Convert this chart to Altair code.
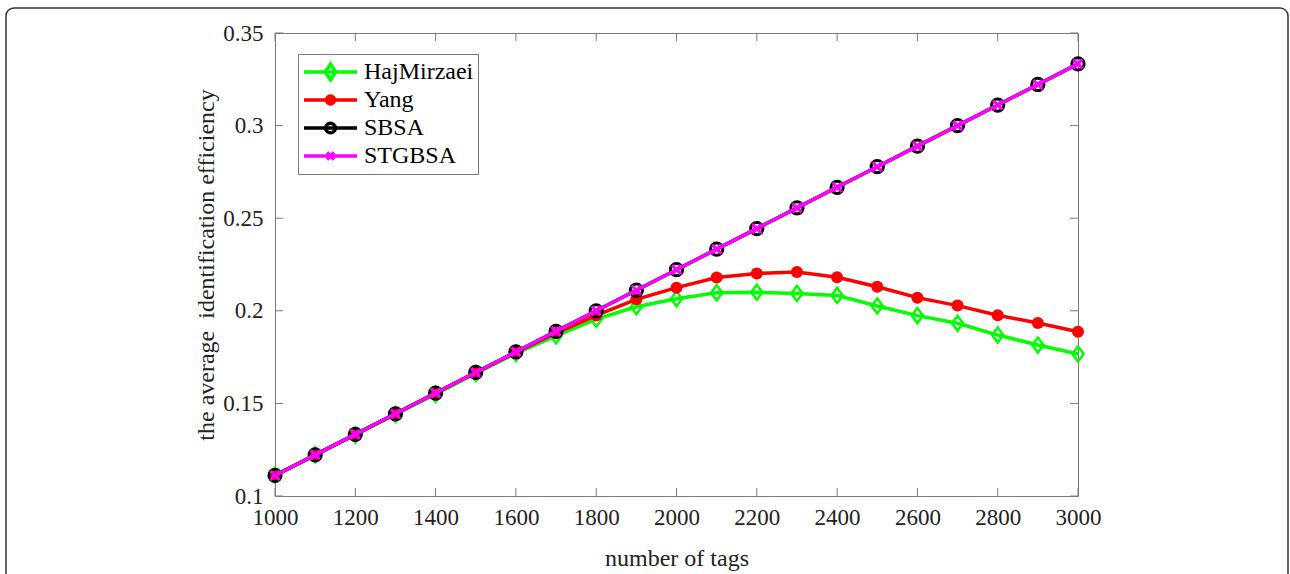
import altair as alt
import pandas as pd

# ---- data ----
tags = [1000, 1100, 1200, 1300, 1400, 1500, 1600, 1700, 1800, 1900, 2000,
        2100, 2200, 2300, 2400, 2500, 2600, 2700, 2800, 2900, 3000]
hajmirzaei = [0.1111, 0.1222, 0.1330, 0.1440, 0.1550, 0.1662, 0.1770, 0.1865,
              0.1955, 0.2022, 0.2065, 0.2097, 0.2100, 0.2094, 0.2083, 0.2026,
              0.1974, 0.1933, 0.1869, 0.1815, 0.1767]
yang = [0.1111, 0.1222, 0.1333, 0.1444, 0.1556, 0.1667, 0.1775, 0.1880,
        0.1975, 0.2062, 0.2125, 0.2180, 0.2202, 0.2210, 0.2181, 0.2130,
        0.2071, 0.2028, 0.1976, 0.1934, 0.1887]
sbsa = [0.1111, 0.1222, 0.1333, 0.1444, 0.1556, 0.1667, 0.1778, 0.1889,
        0.2000, 0.2111, 0.2222, 0.2333, 0.2444, 0.2556, 0.2667, 0.2778,
        0.2889, 0.3000, 0.3111, 0.3222, 0.3333]
stgbsa = [0.1111, 0.1222, 0.1333, 0.1444, 0.1556, 0.1667, 0.1778, 0.1889,
          0.2000, 0.2111, 0.2222, 0.2333, 0.2444, 0.2556, 0.2667, 0.2778,
          0.2889, 0.3000, 0.3111, 0.3222, 0.3333]
series_names = ["HajMirzaei", "Yang", "SBSA", "STGBSA"]
x_ticks = [1000, 1200, 1400, 1600, 1800, 2000, 2200, 2400, 2600, 2800, 3000]
y_ticks = [0.1, 0.15, 0.2, 0.25, 0.3, 0.35]

rows = []
for name, vals in zip(series_names, [hajmirzaei, yang, sbsa, stgbsa]):
    for t, v in zip(tags, vals):
        rows.append({"tags": t, "eff": v, "series": name})
df = pd.DataFrame(rows)
xt_df = pd.DataFrame({"tags": x_ticks})
yt_df = pd.DataFrame({"eff": y_ticks})

# ---- styles ----
W, H = 803, 463
FONT = "Liberation Serif"
AX = "#7a7a7a"
TXT = "#222222"
TICK = 8
colors = ["#00ff00", "#ff0000", "#000000", "#ff00ff"]

xscale = alt.Scale(domain=[1000, 3000], nice=False, zero=False)
yscale = alt.Scale(domain=[0.1, 0.35], nice=False, zero=False)

common_axis = dict(domain=False, ticks=False, grid=False, labelFlush=False,
                   labelFont=FONT, labelFontSize=23, labelColor=TXT,
                   titleFont=FONT, titleFontSize=24, titleColor=TXT,
                   titleFontWeight="normal")
x_axis = alt.Axis(values=x_ticks, format="d", title="number of tags",
                  labelPadding=10, titlePadding=17, **common_axis)
y_axis = alt.Axis(values=y_ticks, format=".2~f",
                  title="the average\u00a0 identification efficiency",
                  labelPadding=12, titlePadding=4, **common_axis)


def X():
    return alt.X("tags:Q", scale=xscale, axis=x_axis)


def Y():
    return alt.Y("eff:Q", scale=yscale, axis=y_axis)


markers = {
    "HajMirzaei": dict(shape="M-0.75,0L0,-1L0.75,0L0,1Z", size=225, filled=False, strokeWidth=2.5),
    "Yang": dict(shape="circle", size=144, filled=True, strokeWidth=0),
    "SBSA": dict(shape="circle", size=150, filled=False, strokeWidth=3),
    "STGBSA": dict(shape="M-1,-1L1,1M-1,1L1,-1", size=81, filled=False, strokeWidth=3),
}

# legend symbol paths: line segment (+-1 unit) with a marker in the middle
legend_paths = [
    "M-1,0L1,0M-0.2,0L0,-0.3L0.2,0L0,0.3Z",
    "M-1,0L1,0M-0.15,0A0.15,0.15,0,1,0,0.15,0A0.15,0.15,0,1,0,-0.15,0"
    "M-0.057,0A0.057,0.057,0,1,0,0.057,0A0.057,0.057,0,1,0,-0.057,0",
    "M-1,0L1,0M-0.18,0A0.18,0.18,0,1,0,0.18,0A0.18,0.18,0,1,0,-0.18,0",
    "M-1,0L1,0M-0.13,-0.13L0.13,0.13M-0.13,0.13L0.13,-0.13",
]

layers = []
for name, col in zip(series_names, colors):
    sub = alt.Chart(df).transform_filter(alt.datum.series == name)
    layers.append(sub.mark_line(color=col, strokeWidth=3.5).encode(x=X(), y=Y()))
    m = markers[name]
    layers.append(sub.mark_point(shape=m["shape"], size=m["size"], filled=m["filled"],
                                 color=col, strokeWidth=m["strokeWidth"], opacity=1)
                  .encode(x=X(), y=Y()))

# inward ticks on all four sides
xt = alt.Chart(xt_df)
yt = alt.Chart(yt_df)
layers.append(xt.mark_rule(color=AX, strokeWidth=1).encode(
    x=X(), y=alt.value(H), y2=alt.value(H - TICK)))
layers.append(xt.mark_rule(color=AX, strokeWidth=1).encode(
    x=X(), y=alt.value(0), y2=alt.value(TICK)))
layers.append(yt.mark_rule(color=AX, strokeWidth=1).encode(
    y=Y(), x=alt.value(0), x2=alt.value(TICK)))
layers.append(yt.mark_rule(color=AX, strokeWidth=1).encode(
    y=Y(), x=alt.value(W), x2=alt.value(W - TICK)))

# legend (drawn by the library from the series names)
legend_spec = alt.Legend(title=None, orient="none", legendX=23, legendY=21,
                         symbolSize=2809, clipHeight=28, rowPadding=0, padding=4,
                         labelOffset=5, labelFont=FONT, labelFontSize=24,
                         labelColor="black", labelLimit=400, strokeColor=AX,
                         fillColor="white", symbolStrokeWidth=3.5,
                         symbolFillColor="transparent", symbolOpacity=1)
layers.append(alt.Chart(df).transform_filter("false").mark_point(filled=False, opacity=1, strokeWidth=3.5)
              .encode(x=X(), y=Y(),
                      color=alt.Color("series:N", scale=alt.Scale(domain=series_names, range=colors),
                                      legend=legend_spec),
                      shape=alt.Shape("series:N", scale=alt.Scale(domain=series_names, range=legend_paths),
                                      legend=legend_spec)))

# figure frame
frame = alt.Chart(pd.DataFrame({"k": [0]})).mark_rect(
    fillOpacity=0, stroke="#333333", strokeWidth=1.5, cornerRadius=8
).encode(x=alt.value(-269), x2=alt.value(W + 210), y=alt.value(-25), y2=alt.value(H + 120))

chart = alt.layer(*layers, frame).properties(
    width=W, height=H,
    padding={"left": 5, "top": 7, "right": 0, "bottom": 0},
    background="white",
).configure_view(stroke=AX, strokeWidth=1).configure_axis(
    labelFont=FONT, titleFont=FONT
)

chart.save("out.html", embed_options={"renderer": "svg", "actions": False})
